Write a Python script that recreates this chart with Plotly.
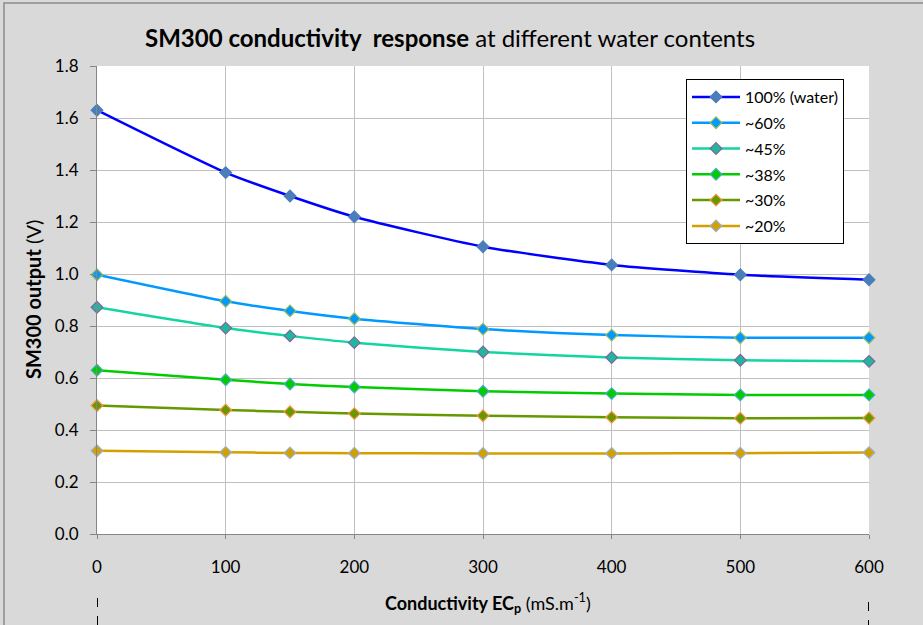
import plotly.graph_objects as go

conductivity = [0, 100, 150, 200, 300, 400, 500, 600]

series_names = ["100% (water)", "~60%", "~45%", "~38%", "~30%", "~20%"]
water_100 = [1.63, 1.39, 1.30, 1.22, 1.105, 1.035, 0.997, 0.978]
approx_60 = [0.997, 0.895, 0.858, 0.828, 0.788, 0.765, 0.755, 0.755]
approx_45 = [0.872, 0.792, 0.762, 0.736, 0.700, 0.679, 0.668, 0.664]
approx_38 = [0.630, 0.593, 0.577, 0.565, 0.549, 0.540, 0.535, 0.535]
approx_30 = [0.494, 0.477, 0.470, 0.463, 0.455, 0.449, 0.445, 0.446]
approx_20 = [0.320, 0.314, 0.312, 0.311, 0.310, 0.310, 0.311, 0.313]
all_values = [water_100, approx_60, approx_45, approx_38, approx_30, approx_20]

line_colors = ["#0000ff", "#0099ff", "#14d4a0", "#00cc00", "#669900", "#d4a000"]
marker_fills = ["#4a7ebb", "#0099ff", "#1fb89a", "#00cc00", "#669900", "#d4a000"]
marker_edges = ["#4a7ebb", "#9bbb59", "#8064a2", "#4bacc6", "#f79646", "#95b3d7"]

x_ticks = [0, 100, 200, 300, 400, 500, 600]
y_ticks = [0.0, 0.2, 0.4, 0.6, 0.8, 1.0, 1.2, 1.4, 1.6, 1.8]

FONT = "Lato, Open Sans, sans-serif"

fig = go.Figure()
for i, (name, vals, lc, mf, me) in enumerate(zip(series_names, all_values, line_colors, marker_fills, marker_edges)):
    fig.add_trace(go.Scatter(
        x=conductivity, y=vals, name=name, mode="lines+markers",
        legendgroup=f"g{i}",
        line=dict(color=lc, width=2.5, shape="spline", smoothing=0.6),
        marker=dict(symbol="diamond", size=9, color=mf, line=dict(color=me, width=1.2)),
        cliponaxis=False,
    ))

W, H = 923, 625
L, R, T, B = 97, 54, 66, 91
pw, ph = W - L - R, H - T - B

def px(xp):
    return (xp - L) / pw

def py(yp):
    return (H - B - yp) / ph

shapes = [
    # outer chart border
    dict(type="rect", xref="paper", yref="paper", x0=px(4), x1=px(960), y0=py(660), y1=py(3),
         line=dict(color="#8c8c8c", width=1.5), fillcolor="rgba(0,0,0,0)", layer="below"),
    # dashed marks below axis
    dict(type="line", xref="x", yref="paper", x0=0, x1=0, y0=py(598), y1=py(630),
         line=dict(color="black", width=2, dash="dash")),
    dict(type="line", xref="x", yref="paper", x0=600, x1=600, y0=py(602), y1=py(630),
         line=dict(color="black", width=2, dash="dash")),
]

annotations = [
    dict(text="<b>SM300 conductivity  response</b> at different water contents",
         xref="paper", yref="paper", x=px(450), y=py(37), showarrow=False,
         font=dict(family=FONT, size=24, color="black"), xanchor="center", yanchor="middle"),
    dict(text="<b>Conductivity EC<sub>p</sub></b> (mS.m<sup>-1</sup>)",
         xref="paper", yref="paper", x=px(488), y=py(603), showarrow=False,
         font=dict(family=FONT, size=18, color="black"), xanchor="center", yanchor="middle"),
    dict(text="<b>SM300 output</b> (V)", textangle=-90,
         xref="paper", yref="paper", x=px(33), y=py(300), showarrow=False,
         font=dict(family=FONT, size=20, color="black"), xanchor="center", yanchor="middle"),
]

fig.update_layout(
    width=W, height=H,
    margin=dict(l=L, r=R, t=T, b=B),
    paper_bgcolor="#d9d9d9",
    plot_bgcolor="white",
    font=dict(family=FONT, color="black"),
    showlegend=True,
    legend=dict(x=px(686), y=py(79), xanchor="left", yanchor="top",
                bgcolor="white", bordercolor="black", borderwidth=1,
                font=dict(family=FONT, size=16), tracegroupgap=2, itemwidth=48),
    shapes=shapes,
    annotations=annotations,
    xaxis=dict(range=[0, 600], tickvals=x_ticks, ticks="outside", ticklen=4,
               tickcolor="#868686", showline=True, linecolor="#868686", linewidth=1,
               showgrid=True, gridcolor="#c0c0c0", gridwidth=1.3, zeroline=False,
               tickfont=dict(family=FONT, size=17), ticklabelstandoff=14),
    yaxis=dict(range=[0, 1.8], tickvals=y_ticks, tickformat=".1f", ticks="outside",
               ticklen=6, tickcolor="#868686", showline=True, linecolor="#868686",
               linewidth=1, showgrid=True, gridcolor="#c0c0c0", gridwidth=1.3,
               zeroline=False, tickfont=dict(family=FONT, size=17), ticklabelstandoff=8),
)

fig.write_html("out.html", config={"displayModeBar": False},
               post_script="document.body.style.margin='0px';document.body.style.padding='0px';")
